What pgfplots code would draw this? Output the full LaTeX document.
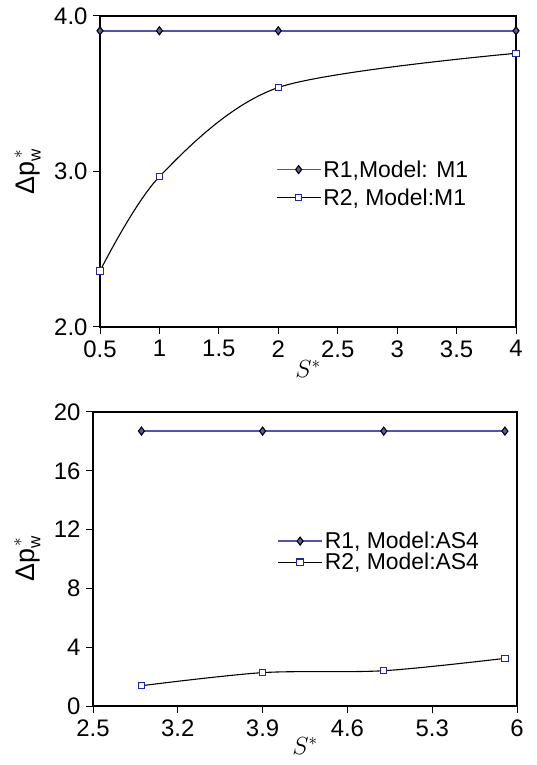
\documentclass[border=0pt]{standalone}
\usepackage{fontspec}
\setmainfont{Liberation Sans}
\usepackage{pgfplots}
\pgfplotsset{compat=1.18}

\definecolor{lineblue}{RGB}{80,80,190}
\definecolor{markblue}{RGB}{35,35,175}

\newcommand{\legfont}{\fontsize{23}{27}\selectfont}
\newcommand{\tickfont}{\fontsize{24}{28}\selectfont}
\newcommand{\labfont}{\fontsize{27}{30}\selectfont}
\newcommand{\dpw}{Δp$_{\mbox{\fontsize{17}{17}\selectfont w}}^{\,\raisebox{3bp}{$\scriptstyle *$}}$}

\pgfplotsset{
  panel/.style={
    scale only axis,
    clip=false,
    axis line style={black, line width=1.2pt},
    tick align=outside,
    xtick pos=left, ytick pos=left,
    major tick length=7bp,
    tick style={black, line width=1pt},
    ticklabel style={font=\tickfont},
    xticklabel style={yshift=-3bp},
    label style={font=\labfont, inner sep=0pt},
    /pgf/number format/assume math mode=true,
    legend style={draw=none, fill=none, font=\legfont, anchor=west,
      inner sep=1pt},
    legend cell align=left,
    legend image code/.code={%
      \draw[mark repeat=2, mark phase=2, #1]
        plot coordinates {(0bp,0bp) (22bp,0bp) (44bp,0bp)};},
  },
  rone/.style={lineblue, line width=1.5pt, mark=diamond*, mark size=4bp,
    mark options={draw=black, fill=lineblue!80!gray, line width=1.1pt, solid}},
  rtwo/.style={black, line width=1.1pt, mark=square*, mark size=3.2bp,
    mark options={draw=markblue, fill=white, line width=1.1pt, solid}},
}

\begin{document}
\begin{tikzpicture}[x=1bp, y=1bp]
\useasboundingbox (0,0) rectangle (537,765);

% upper panel: model M1
\begin{axis}[panel,
  at={(100bp,438bp)}, anchor=south west,
  width=416bp, height=311bp,
  xmin=0.5, xmax=4, ymin=2, ymax=4,
  xtick={0.5,1,1.5,2,2.5,3,3.5,4},
  ytick={2,3,4},
  yticklabel style={xshift=-2bp, /pgf/number format/.cd, fixed, fixed zerofill, precision=1},
  xlabel={$S^{*}$},
  ylabel={\dpw},
  xlabel style={at={(axis description cs:0.5,0)}, anchor=north, yshift=-33bp},
  ylabel style={yshift=10bp},
  legend style={at={(0.42,0.461)}, row sep=6bp},
]
\addplot[rone] coordinates {(0.5,3.905) (1,3.905) (2,3.905) (4,3.905)};
\addlegendentry{R1,Model: M1}
\addplot[rtwo, smooth] coordinates {(0.5,2.36) (1,2.967) (2,3.54) (4,3.76)};
\addlegendentry{R2, Model:M1}
\end{axis}

% lower panel: model AS4
\begin{axis}[panel,
  at={(93bp,59bp)}, anchor=south west,
  width=424bp, height=294bp,
  xmin=2.5, xmax=6, ymin=0, ymax=20,
  xtick={2.5,3.2,3.9,4.6,5.3,6},
  xticklabels={2.5,3.2,3.9,4.6,5.3,6},
  ytick={0,4,8,12,16,20},
  yticklabel style={xshift=-2bp},
  xlabel={$S^{*}$},
  ylabel={\dpw},
  xlabel style={at={(axis description cs:0.5,0)}, anchor=north, yshift=-31bp},
  ylabel style={yshift=10bp},
  legend style={at={(0.432,0.525)}, row sep=-1pt},
]
\addplot[rone] coordinates {(2.9,18.7) (3.9,18.7) (4.9,18.7) (5.9,18.7)};
\addlegendentry{R1, Model:AS4}
\addplot[rtwo, smooth] coordinates {(2.9,1.38) (3.9,2.27) (4.9,2.4) (5.9,3.24)};
\addlegendentry{R2, Model:AS4}
\end{axis}
\end{tikzpicture}
\end{document}
